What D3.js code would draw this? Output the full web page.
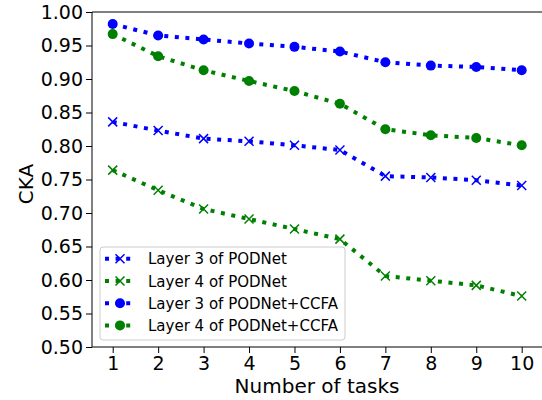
<!DOCTYPE html>
<html lang="en">
<head>
<meta charset="utf-8">
<script src="https://d3js.org/d3.v7.min.js"></script>
<style>
  body { margin: 0; background: #fff; }
  svg { font-family: "DejaVu Sans", sans-serif; }
  .tick text { fill: #000; font-size: 19px; }
  .tick line { stroke: #000; }
  .domain { stroke: #000; }
</style>
</head>
<body>
<svg width="542" height="400"></svg>
<script>
var tasks = [1, 2, 3, 4, 5, 6, 7, 8, 9, 10];
var l3Pod = [0.836, 0.823, 0.811, 0.807, 0.801, 0.794, 0.755, 0.753, 0.749, 0.741];
var l4Pod = [0.764, 0.734, 0.706, 0.691, 0.676, 0.661, 0.606, 0.599, 0.592, 0.576];
var l3Ccfa = [0.982, 0.965, 0.959, 0.953, 0.948, 0.941, 0.925, 0.920, 0.918, 0.913];
var l4Ccfa = [0.967, 0.934, 0.913, 0.897, 0.882, 0.863, 0.825, 0.816, 0.812, 0.801];
var yTicks = [0.50, 0.55, 0.60, 0.65, 0.70, 0.75, 0.80, 0.85, 0.90, 0.95, 1.00];

var series = [
  {name: "Layer 3 of PODNet", vals: l3Pod, color: "blue", marker: "x"},
  {name: "Layer 4 of PODNet", vals: l4Pod, color: "green", marker: "x"},
  {name: "Layer 3 of PODNet+CCFA", vals: l3Ccfa, color: "blue", marker: "o"},
  {name: "Layer 4 of PODNet+CCFA", vals: l4Ccfa, color: "green", marker: "o"}
];

var svg = d3.select("svg");
var mLeft = 92, mTop = 12, mBottom = 347;

var x = d3.scaleLinear().domain([1, 10]).range([112.7, 521.7]);
var y = d3.scaleLinear().domain([0.5, 1.0]).range([mBottom, mTop]);

// axes
svg.append("g")
  .attr("transform", `translate(${mLeft},0)`)
  .call(d3.axisLeft(y).tickValues(yTicks).tickFormat(d3.format(".2f")).tickSize(6).tickPadding(3))
  .attr("font-size", 19).attr("font-family", "DejaVu Sans")
  .call(g => g.select(".domain").attr("d", `M0,${mTop}V${mBottom}`));
svg.append("g")
  .attr("transform", `translate(0,${mBottom})`)
  .call(d3.axisBottom(x).tickValues(tasks).tickFormat(d3.format("d")).tickSize(6).tickPadding(4))
  .attr("font-size", 19).attr("font-family", "DejaVu Sans")
  .call(g => g.select(".domain").attr("d", `M${mLeft},0H560`));
svg.append("line")
  .attr("x1", mLeft).attr("x2", 560).attr("y1", mTop).attr("y2", mTop)
  .attr("stroke", "#000");

// labels
svg.append("text")
  .attr("transform", "translate(33,184) rotate(-90)")
  .attr("text-anchor", "middle")
  .style("font-size", "20px")
  .text("CKA");
svg.append("text")
  .attr("x", 317).attr("y", 393)
  .attr("text-anchor", "middle")
  .style("font-size", "20px")
  .text("Number of tasks");

var line = d3.line().x((d, i) => x(tasks[i])).y(d => y(d));

function drawMarker(g, type, color, cx, cy) {
  if (type === "o") {
    g.append("circle").attr("cx", cx).attr("cy", cy).attr("r", 5).attr("fill", color);
  } else {
    var s = 4.5;
    g.append("path")
      .attr("d", `M${cx - s},${cy - s}L${cx + s},${cy + s}M${cx - s},${cy + s}L${cx + s},${cy - s}`)
      .attr("stroke", color).attr("stroke-width", 1.5).attr("fill", "none");
  }
}

series.forEach(function(s) {
  var g = svg.append("g");
  g.append("path")
    .datum(s.vals)
    .attr("d", line)
    .attr("fill", "none")
    .attr("stroke", s.color)
    .attr("stroke-width", 4)
    .attr("stroke-dasharray", "4,6.6");
  s.vals.forEach((v, i) => drawMarker(g, s.marker, s.color, x(tasks[i]), y(v)));
});

// legend
var lg = svg.append("g");
lg.append("rect")
  .attr("x", 100).attr("y", 247).attr("width", 245).attr("height", 93)
  .attr("rx", 3).attr("fill", "#fff").attr("fill-opacity", 0.8)
  .attr("stroke", "#ccc");
series.forEach(function(s, i) {
  var cy = 258.8 + i * 22.2;
  lg.append("line")
    .attr("x1", 105).attr("x2", 133).attr("y1", cy).attr("y2", cy)
    .attr("stroke", s.color).attr("stroke-width", 4)
    .attr("stroke-dasharray", "4,6.6");
  drawMarker(lg, s.marker, s.color, 120, cy);
  lg.append("text")
    .attr("x", 148).attr("y", cy + 5.5)
    .style("font-size", "15px")
    .text(s.name);
});
</script>
</body>
</html>
